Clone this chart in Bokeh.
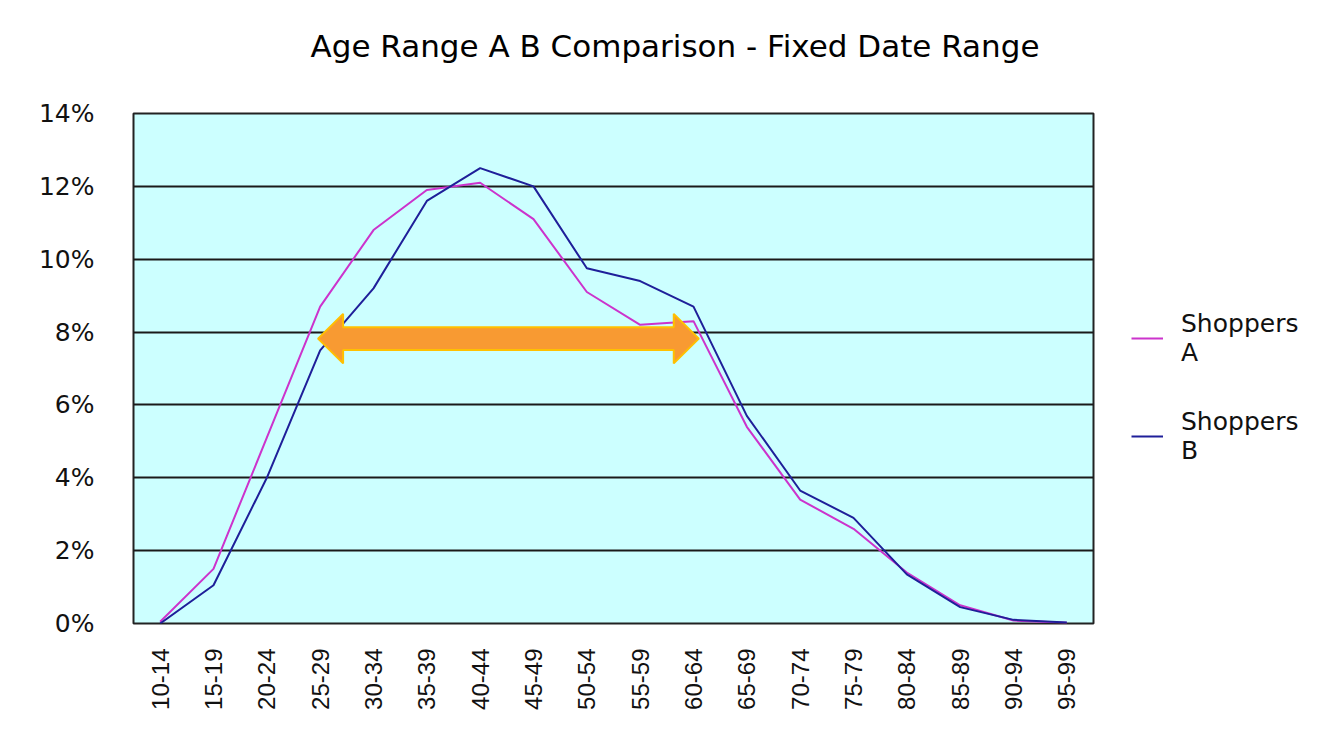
from bokeh.plotting import figure
from bokeh.models import (FixedTicker, PrintfTickFormatter, Legend, LegendItem, Range1d, Title)
from bokeh.embed import file_html
from bokeh.resources import INLINE
import math

# ---- data ----
categories = ["10-14", "15-19", "20-24", "25-29", "30-34", "35-39", "40-44", "45-49",
              "50-54", "55-59", "60-64", "65-69", "70-74", "75-79", "80-84", "85-89",
              "90-94", "95-99"]
shoppers_a = [0.05, 1.5, 5.1, 8.7, 10.8, 11.9, 12.1, 11.1, 9.1, 8.2, 8.3, 5.4, 3.4, 2.6, 1.4, 0.5, 0.08, 0.02]
shoppers_b = [0.0, 1.05, 4.0, 7.5, 9.2, 11.6, 12.5, 12.0, 9.75, 9.4, 8.7, 5.7, 3.65, 2.9, 1.35, 0.45, 0.1, 0.03]
y_ticks = [0, 2, 4, 6, 8, 10, 12, 14]
series_names = ["Shoppers\nA", "Shoppers\nB"]
title_text = "Age Range A B Comparison - Fixed Date Range"

# arrow annotation (category index / percent)
arrow_from = 2.96
arrow_to = 10.1
arrow_level = 7.82

x_idx = list(range(len(categories)))

p = figure(width=1318, height=732, output_backend="svg", toolbar_location=None,
           x_range=Range1d(-0.5, len(categories) - 0.5), y_range=Range1d(0, 14),
           min_border_left=133, min_border_right=10, min_border_top=10, min_border_bottom=10)
p.frame_width = 960
p.frame_height = 510

p.background_fill_color = "#CCFFFF"
p.border_fill_color = "white"
p.outline_line_color = "#222222"
p.outline_line_width = 2

p.title.text = title_text
p.title.text_font = "DejaVu Sans"
p.title.text_font_size = "31px"
p.title.text_font_style = "normal"
p.title.align = "left"
p.title.offset = 177
p.title.standoff = 51
p.title.text_color = "black"

# spacer between title and plot area
p.add_layout(Title(text=" ", text_font_size="10px", standoff=11), "above")

# grid
p.xgrid.visible = False
p.ygrid.ticker = FixedTicker(ticks=y_ticks)
p.ygrid.grid_line_color = "#1a1a1a"
p.ygrid.grid_line_width = 2

# axes
p.yaxis.ticker = FixedTicker(ticks=y_ticks)
p.yaxis.formatter = PrintfTickFormatter(format="%d%%")
p.xaxis.ticker = FixedTicker(ticks=x_idx)
p.xaxis.major_label_overrides = {i: c for i, c in enumerate(categories)}
p.xaxis.major_label_orientation = math.pi / 2
for ax in (p.xaxis, p.yaxis):
    ax.axis_line_color = None
    ax.major_tick_line_color = None
    ax.minor_tick_line_color = None
    ax.major_label_text_color = "#111111"
p.xaxis.major_label_text_font = "Liberation Sans"
p.xaxis.major_label_text_font_size = "24px"
p.yaxis.major_label_text_font = "DejaVu Sans"
p.yaxis.major_label_text_font_size = "25px"
p.yaxis.major_label_standoff = 33
p.xaxis.major_label_standoff = 19

# lines
ra = p.line(x_idx, shoppers_a, line_color="#CC33CC", line_width=2)
rb = p.line(x_idx, shoppers_b, line_color="#1F1F99", line_width=2)

# double-headed arrow
shaft = 0.31
head = 0.68
head_len = 0.47
ax_pts = [arrow_from, arrow_from + head_len, arrow_from + head_len, arrow_to - head_len,
          arrow_to - head_len, arrow_to, arrow_to - head_len, arrow_to - head_len,
          arrow_from + head_len, arrow_from + head_len]
ay_pts = [arrow_level, arrow_level + head, arrow_level + shaft, arrow_level + shaft,
          arrow_level + head, arrow_level, arrow_level - head, arrow_level - shaft,
          arrow_level - shaft, arrow_level - head]
p.patch(ax_pts, ay_pts, fill_color="#F89A32", line_color="#FFC000", line_width=2)

legend = Legend(items=[LegendItem(label=series_names[0], renderers=[ra]),
                       LegendItem(label=series_names[1], renderers=[rb])],
                location=(38, 158), orientation="vertical",
                label_text_font="DejaVu Sans", label_text_font_size="25px",
                label_text_color="#111111",
                glyph_width=32, label_standoff=18, spacing=40, padding=0, margin=0,
                border_line_color=None, background_fill_alpha=0)
p.add_layout(legend, "right")

open("out.html", "w").write(file_html(p, INLINE))
